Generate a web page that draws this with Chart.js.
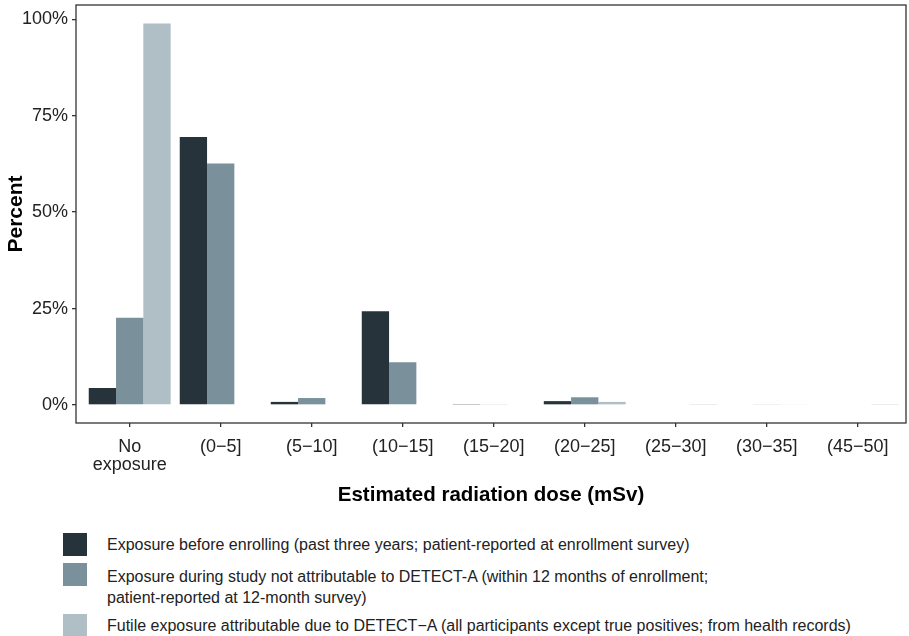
<!DOCTYPE html>
<html>
<head>
<meta charset="utf-8">
<script src="https://cdn.jsdelivr.net/npm/chart.js@4"></script>
<style>
  body { margin: 0; background: #fff; font-family: "Liberation Sans", Arial, sans-serif; }
  #wrap { position: relative; width: 909px; height: 636px; }
  #box { position: absolute; left: 0; top: 0; width: 909px; height: 520px; }
  #legend { position: absolute; left: 63px; top: 533px; }
  .item { display: flex; align-items: flex-start; }
  .swatch { width: 24px; height: 23px; flex: none; }
  .text { margin-left: 20px; margin-top: 1px; font-size: 16px; line-height: 21px; color: #222; white-space: pre-line; }
  .item.two .text { margin-top: 3px; }
</style>
</head>
<body>
<div id="wrap">
  <div id="box"><canvas id="chart"></canvas></div>
  <div id="legend"></div>
</div>
<script>
// dose bins on the x axis
const doseBins = ['No\nexposure', '(0\u22125]', '(5\u221210]', '(10\u221215]', '(15\u221220]',
                  '(20\u221225]', '(25\u221230]', '(30\u221235]', '(45\u221250]']

// percent of participants in each bin
const beforeEnrolling = [4.4, 69.5, 0.8, 24.3, 0.1, 1.0, 0, 0, 0]
const duringStudy     = [22.6, 62.6, 1.8, 11.1, 0.2, 2.0, 0, 0.2, 0]
const futileDetectA   = [98.9, 0, 0, 0, 0, 0.8, 0.1, 0.15, 0.1]

const percentTicks = [0, 25, 50, 75, 100]

const seriesLabels = [
  'Exposure before enrolling (past three years; patient-reported at enrollment survey)',
  'Exposure during study not attributable to DETECT-A (within 12 months of enrollment;\npatient-reported at 12-month survey)',
  'Futile exposure attributable due to DETECT\u2212A (all participants except true positives; from health records)'
]
const seriesColors = ['#26333a', '#7a919b', '#b0bec5']

const toPoints = vals => vals.map((v, i) => ({ x: i, y: v }))

const panelBorder = {
  id: 'panelBorder',
  afterDatasetsDraw(chart) {
    const a = chart.chartArea, ctx = chart.ctx
    ctx.save()
    ctx.strokeStyle = '#333'
    ctx.lineWidth = 1.3
    ctx.strokeRect(a.left, a.top, a.right - a.left, a.bottom - a.top)
    ctx.restore()
  }
}

const font = { family: '"Liberation Sans", Arial, sans-serif' }

new Chart(document.getElementById('chart'), {
  type: 'bar',
  data: {
    datasets: [beforeEnrolling, duringStudy, futileDetectA].map((vals, k) => ({
      label: seriesLabels[k],
      data: toPoints(vals),
      backgroundColor: seriesColors[k],
      borderWidth: 0,
      categoryPercentage: 0.9,
      barPercentage: 1
    }))
  },
  options: {
    responsive: true,
    maintainAspectRatio: false,
    animation: false,
    layout: { padding: { top: 5, right: 3, left: 0, bottom: 0 } },
    plugins: { legend: { display: false }, tooltip: { enabled: false } },
    scales: {
      x: {
        type: 'linear',
        offset: false,
        min: -0.59,
        max: 8.53,
        afterBuildTicks: axis => { axis.ticks = doseBins.map((b, i) => ({ value: i })) },
        afterFit: axis => { axis.height = 97; axis.paddingLeft = 0; axis.paddingRight = 0 },
        border: { display: false },
        grid: { offset: false, drawOnChartArea: false, drawTicks: true, tickLength: 4, color: '#333', lineWidth: 1.3 },
        ticks: {
          autoSkip: false,
          maxRotation: 0,
          padding: 11,
          color: '#222',
          font: { ...font, size: 18, lineHeight: 1.0 },
          callback: v => doseBins[v] ? doseBins[v].split('\n') : ''
        },
        title: {
          display: true,
          text: 'Estimated radiation dose (mSv)',
          color: '#000',
          font: { ...font, size: 20.5, weight: 'bold' },
          padding: { top: 0, bottom: 12 }
        }
      },
      y: {
        min: -4.67,
        max: 103.7,
        afterBuildTicks: axis => { axis.ticks = percentTicks.map(v => ({ value: v })) },
        afterFit: axis => { axis.width = 76; axis.paddingTop = 0; axis.paddingBottom = 0 },
        border: { display: false },
        grid: { drawOnChartArea: false, drawTicks: true, tickLength: 4, color: '#333', lineWidth: 1.3 },
        ticks: {
          padding: 4,
          color: '#222',
          font: { ...font, size: 18 },
          callback: v => v + '%'
        },
        title: {
          display: true,
          text: 'Percent',
          color: '#000',
          font: { ...font, size: 21, weight: 'bold' },
          padding: { top: 4, bottom: 0 }
        }
      }
    }
  },
  plugins: [panelBorder]
})

// legend underneath the plot, one row per series
const legend = document.getElementById('legend')
const rowGaps = [0, 7, 6]
seriesLabels.forEach((label, k) => {
  const row = document.createElement('div')
  row.className = label.includes('\n') ? 'item two' : 'item'
  row.style.marginTop = rowGaps[k] + 'px'
  row.innerHTML = '<div class="swatch" style="background:' + seriesColors[k] + '"></div><div class="text"></div>'
  row.querySelector('.text').textContent = label
  legend.appendChild(row)
})
</script>
</body>
</html>
